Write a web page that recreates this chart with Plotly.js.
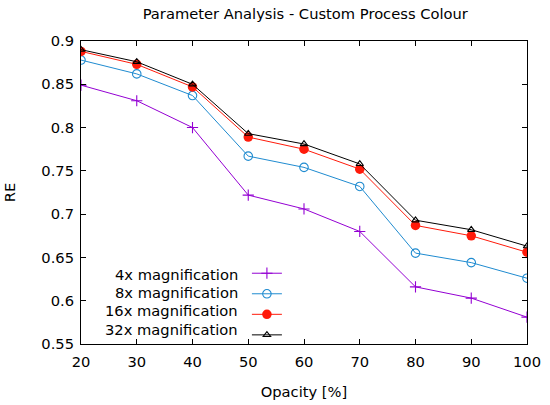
<!DOCTYPE html>
<html>
<head>
<meta charset="utf-8">
<script src="https://cdn.plot.ly/plotly-3.0.1.min.js"></script>
<style>html,body{margin:0;padding:0;background:#fff;}#chart{width:550px;height:405px;}</style>
</head>
<body>
<div id="chart"></div>
<script>
const opacity = [20, 30, 40, 50, 60, 70, 80, 90, 100];
const mag4  = [0.849, 0.831, 0.800, 0.722, 0.706, 0.680, 0.616, 0.603, 0.581];
const mag8  = [0.878, 0.862, 0.837, 0.767, 0.754, 0.732, 0.655, 0.644, 0.626];
const mag16 = [0.888, 0.873, 0.847, 0.789, 0.775, 0.752, 0.687, 0.675, 0.656];
const mag32 = [0.890, 0.876, 0.850, 0.793, 0.781, 0.758, 0.693, 0.682, 0.663];
const seriesNames = ["4x magnification", "8x magnification", "16x magnification", "32x magnification"];
const yTicks = [0.55, 0.6, 0.65, 0.7, 0.75, 0.8, 0.85, 0.9];
const yTickText = ["0.55", "0.6", "0.65", "0.7", "0.75", "0.8", "0.85", "0.9"];
const xTicks = [20, 30, 40, 50, 60, 70, 80, 90, 100];

const font = {family: "DejaVu Sans, sans-serif", size: 14.7, color: "#000"};

const styles = [
  {color: "#9400d3", symbol: "cross-thin-open", size: 8, lw: 1.1},
  {color: "#1f8bd0", symbol: "circle-open", size: 8.5, lw: 1.1},
  {color: "#ff1a0a", symbol: "circle", size: 9.5, lw: 0},
  {color: "#000000", symbol: "triangle-up-open", size: 6.5, lw: 1.1}
];
const ys = [mag4, mag8, mag16, mag32];

const traces = ys.map((y, i) => ({
  x: opacity, y: y, type: "scatter", mode: "lines+markers",
  name: " ",
  line: {color: styles[i].color, width: 1},
  marker: {symbol: styles[i].symbol, size: styles[i].size, color: styles[i].color,
           line: {color: styles[i].color, width: styles[i].lw}}
}));

const annotations = seriesNames.map((n, i) => ({
  xref: "paper", yref: "paper", x: 0.357, y: 0.231 - i * 0.0605,
  xanchor: "right", yanchor: "middle", text: n, showarrow: false, font: font
}));

const layout = {
  width: 550, height: 405,
  margin: {l: 81, r: 23, t: 41, b: 61},
  paper_bgcolor: "#fff", plot_bgcolor: "#fff",
  font: font,
  title: {text: "Parameter Analysis - Custom Process Colour", font: font, x: 0.555, xanchor: "center", y: 0.966, yanchor: "middle"},
  xaxis: {
    range: [20, 100], tickvals: xTicks, ticks: "inside", ticklen: 5, tickcolor: "#000",
    showline: true, linecolor: "#000", linewidth: 1, mirror: "ticks", showgrid: false, zeroline: false,
    ticklabelstandoff: 4,
    title: {text: "Opacity [%]", font: font, standoff: 18}, tickfont: font
  },
  yaxis: {
    range: [0.55, 0.9], tickvals: yTicks, ticktext: yTickText, ticks: "inside", ticklen: 5, tickcolor: "#000",
    showline: true, linecolor: "#000", linewidth: 1, mirror: "ticks", showgrid: false, zeroline: false,
    ticklabelstandoff: 3,
    title: {text: "RE", font: font, standoff: 22}, tickfont: font
  },
  showlegend: true,
  legend: {x: 0.372, y: 0.284, xanchor: "left", yanchor: "top", bgcolor: "rgba(0,0,0,0)",
           font: {family: "DejaVu Sans, sans-serif", size: 13.5}, itemwidth: 30, tracegroupgap: 0},
  annotations: annotations
};

Plotly.newPlot("chart", traces, layout, {displayModeBar: false, staticPlot: true});
</script>
</body>
</html>
